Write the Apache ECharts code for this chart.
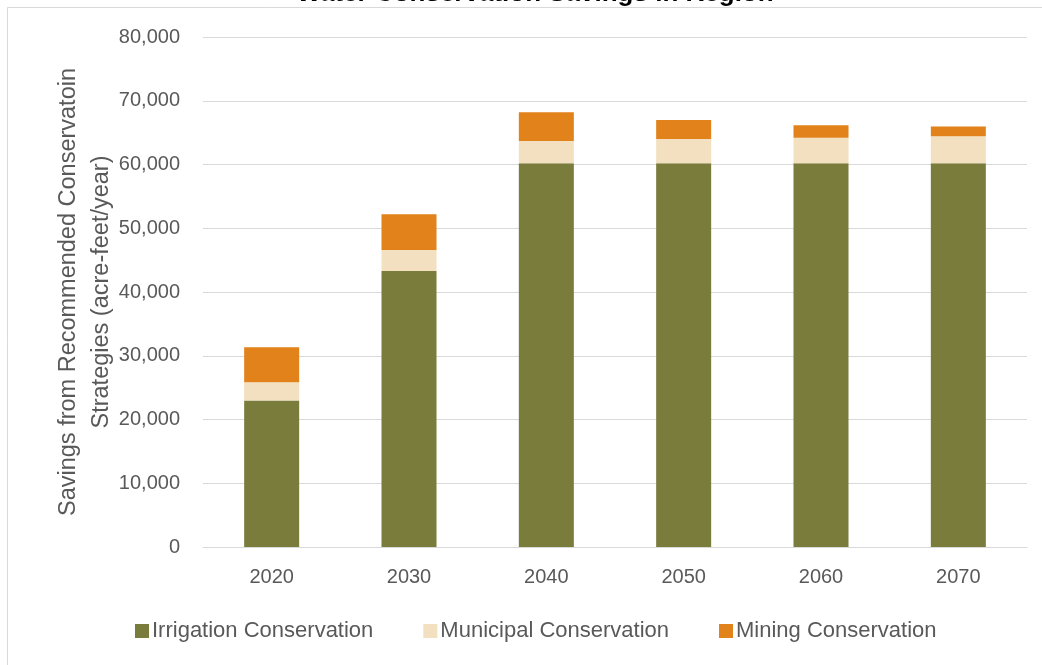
<!DOCTYPE html>
<html>
<head>
<meta charset="utf-8">
<script src="https://cdn.jsdelivr.net/npm/echarts@6/dist/echarts.min.js"></script>
<style>
html,body{margin:0;padding:0;background:#fff;}
#chart{width:1042px;height:665px;}
</style>
</head>
<body>
<div id="chart"></div>
<script>
const categories = ['2020','2030','2040','2050','2060','2070'];
const irrigation = [23000, 43300, 60200, 60200, 60200, 60200];
const municipal  = [2850, 3300, 3500, 3800, 4000, 4250];
const mining     = [5500, 5600, 4500, 3000, 1950, 1500];
const seriesNames = ['Irrigation Conservation','Municipal Conservation','Mining Conservation'];
const titleText = 'Water Conservation Savings in Region';
const yAxisName = 'Savings from Recommended Conservatoin\nStrategies (acre-feet/year)';

const FONT = '"Liberation Sans", Arial, sans-serif';
const chart = echarts.init(document.getElementById('chart'), null, {renderer:'canvas'});
const colors = ['#7A7C3C', '#F2E0C0', '#E1821B'];
const barW = 55;
chart.setOption({
  animation: false,
  backgroundColor: '#fff',
  color: colors,
  title: {
    text: titleText,
    left: 530, textAlign: 'center', top: -24.5,
    textStyle: {fontFamily: FONT, fontWeight: 'bold', fontSize: 26, color: '#000'}
  },
  graphic: [{
    type: 'rect', shape: {x: 7.5, y: 7.5, width: 1100, height: 700},
    style: {fill: 'none', stroke: '#d9d9d9', lineWidth: 1}, silent: true, z: -1
  }],
  grid: {left: 203, right: 15, top: 37, bottom: 118, containLabel: false},
  legend: {
    bottom: 18, left: 130, itemWidth: 14, itemHeight: 14, itemGap: 50,
    icon: 'rect',
    textStyle: {fontFamily: FONT, fontSize: 22, color: '#595959', padding: [0,0,0,-2]},
    data: seriesNames
  },
  xAxis: {
    type: 'category', data: categories,
    axisLine: {lineStyle: {color: '#d9d9d9', width: 1}},
    axisTick: {show: false},
    axisLabel: {fontFamily: FONT, fontSize: 20, color: '#595959', margin: 20}
  },
  yAxis: {
    type: 'value', min: 0, max: 80000, interval: 10000,
    name: yAxisName, nameLocation: 'middle', nameGap: 85, nameRotate: 90,
    nameMoveOverlap: false,
    nameTextStyle: {fontFamily: FONT, fontSize: 23.5, color: '#595959', lineHeight: 33},
    axisLine: {show: false}, axisTick: {show: false},
    splitLine: {lineStyle: {color: '#d9d9d9', width: 1}},
    axisLabel: {fontFamily: FONT, fontSize: 20, color: '#595959', margin: 23,
      formatter: v => v.toLocaleString('en-US')}
  },
  series: [
    {name: seriesNames[0], type: 'bar', stack: 's', data: irrigation, barWidth: barW},
    {name: seriesNames[1], type: 'bar', stack: 's', data: municipal, barWidth: barW},
    {name: seriesNames[2], type: 'bar', stack: 's', data: mining, barWidth: barW}
  ]
});
</script>
</body>
</html>
